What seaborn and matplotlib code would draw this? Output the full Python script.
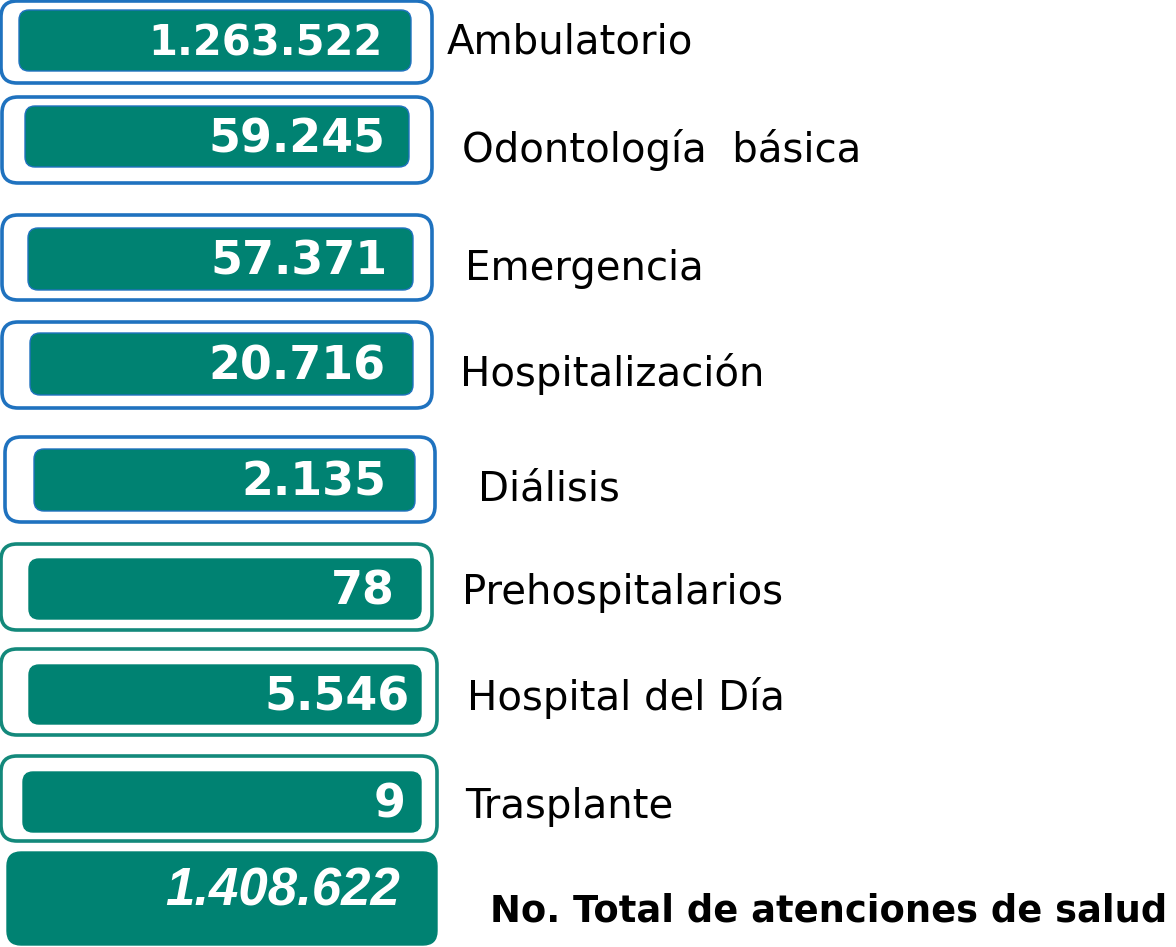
import matplotlib
matplotlib.use("Agg")
import matplotlib.pyplot as plt
from matplotlib.patches import FancyBboxPatch
import seaborn as sns

# data
categories = ["Ambulatorio", "Odontología  básica", "Emergencia", "Hospitalización",
              "Diálisis", "Prehospitalarios", "Hospital del Día", "Trasplante"]
values = [1263522, 59245, 57371, 20716, 2135, 78, 5546, 9]
total_label = "No. Total de atenciones de salud"
total_value = 1408622

def fmt(v):
    return f"{v:,}".replace(",", ".")

# layout in pixels (x0, x1, y0, y1) per row
outer = [(1, 432, 1, 83), (2, 432, 97, 183), (2, 432, 215, 300), (2, 432, 322, 408),
         (5, 435, 437, 522), (1, 432, 544, 630), (1, 437, 649, 735), (1, 437, 756, 841)]
inner = [(19, 411, 10, 71), (25, 409, 106, 167), (28, 413, 228, 290), (30, 413, 333, 395),
         (34, 415, 449, 511), (29, 421, 559, 619), (29, 421, 665, 724), (23, 421, 772, 832)]
value_x = [383, 385, 388, 386, 386, 395, 410, 405]
value_size = [30, 33, 33, 33, 33, 33, 33, 33]
label_xy = [(447, 42), (462, 150), (465, 269), (460, 374), (478, 489),
            (462, 593), (467, 698), (465, 807)]
border = ["#1f72bf"] * 5 + ["#13897b"] * 3

teal = "#008272"

sns.set_theme(style="white")
plt.rcParams['font.family'] = ['DejaVu Sans']

fig = plt.figure(figsize=(11.76, 9.47), dpi=100)
ax = fig.add_axes([0, 0, 1, 1])
ax.set_xlim(0, 1176)
ax.set_ylim(947, 0)
ax.axis("off")

for i, (cat, val) in enumerate(zip(categories, values)):
    x0, x1, y0, y1 = outer[i]
    ax.add_patch(FancyBboxPatch((x0, y0), x1 - x0, y1 - y0,
                                boxstyle="round,pad=0,rounding_size=16",
                                facecolor="white", edgecolor=border[i], linewidth=2.6))
    x0, x1, y0, y1 = inner[i]
    ax.add_patch(FancyBboxPatch((x0, y0), x1 - x0, y1 - y0,
                                boxstyle="round,pad=0,rounding_size=10",
                                facecolor=teal, edgecolor=border[i] if i < 5 else teal,
                                linewidth=1.0))
    ax.text(value_x[i], (y0 + y1) / 2 + 3, fmt(val), ha="right", va="center",
            color="white", fontsize=value_size[i], fontweight="bold")
    lx, ly = label_xy[i]
    ax.text(lx, ly, cat, ha="left", va="center", color="black", fontsize=29)

# total row
ax.add_patch(FancyBboxPatch((7, 852), 430, 93,
                            boxstyle="round,pad=0,rounding_size=14",
                            facecolor=teal, edgecolor=teal, linewidth=1.0))
ax.text(400, 891, fmt(total_value), ha="right", va="center", color="white",
        fontsize=38, fontstyle="italic", fontweight="bold", family="Liberation Sans")
ax.text(490, 911, total_label, ha="left", va="center", color="black",
        fontsize=26.6, fontweight="bold")

fig.savefig("out.png", dpi=100)
